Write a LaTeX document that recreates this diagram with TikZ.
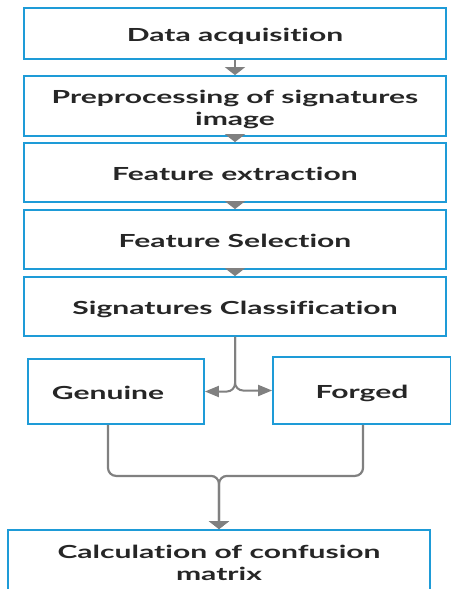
\documentclass[tikz,border=0pt]{standalone}
\usepackage{fontspec}
\setmainfont{Lato}
\newfontfamily\boxfont{Lato}[FakeStretch=1.67, Ligatures=NoCommon]
\usetikzlibrary{arrows.meta}
\definecolor{boxblue}{RGB}{30,155,215}
\definecolor{linegray}{RGB}{128,128,128}
% two centred lines, set a little below the middle of their box
\newcommand{\twolines}[2]{\raisebox{0pt}[30pt][13pt]{\begin{tabular}{@{}c@{}}#1\\#2\end{tabular}}}
\tikzset{
  stage/.style={draw=boxblue, line width=1.8pt, fill=white, rectangle,
    align=center, font=\boxfont\bfseries\fontsize{18}{21.5}\selectfont, text=black!85,
    inner sep=0pt,
    % fixed struts so every label sits at the same height in its box
    execute at begin node={\rule{0pt}{21pt}},
    execute at end node={\rule[-5pt]{0pt}{5pt}}},
  flow/.style={draw=linegray, line width=2.2pt,
    -{Triangle[width=20pt,length=8pt]}},
  sideflow/.style={draw=linegray, line width=2pt,
    -{Triangle[width=11pt,length=14pt]}}
}
\begin{document}
\begin{tikzpicture}[x=1pt,y=-1pt]
\useasboundingbox (0,0) rectangle (450,589);
% main pipeline
\node[stage, minimum width=422pt, minimum height=51pt] (acq) at (235,33.5) {Data acquisition};
\node[stage, minimum width=422pt, minimum height=60pt] (pre) at (235,106) {\twolines{Preprocessing of signatures}{image}};
\node[stage, minimum width=422pt, minimum height=59pt] (ext) at (235,172.5) {Feature extraction};
\node[stage, minimum width=422pt, minimum height=59pt] (sel) at (235,239.5) {Feature Selection};
\node[stage, minimum width=422pt, minimum height=59pt] (cls) at (235,306.5) {Signatures Classification};
% classes
\node[stage, minimum width=176pt, minimum height=65pt] (gen) at (116,391.5) {Genuine\hspace*{16pt}};
\node[stage, minimum width=178pt, minimum height=67pt] (forg) at (362,390.5) {Forged};
% evaluation
\node[stage, minimum width=422pt, minimum height=62pt] (conf) at (219,561) {\twolines{Calculation of confusion}{matrix}};
% connectors
\draw[flow] (acq) -- (pre);
\draw[flow] (pre) -- (ext);
\draw[flow] (ext) -- (sel);
\draw[flow] (sel) -- (cls);
\draw[sideflow, rounded corners=8pt] (cls.south) |- (gen.east);
\draw[sideflow, rounded corners=8pt] (cls.south) |- (forg.west);
\draw[flow, rounded corners=8pt] ([xshift=-8pt]gen.south) -- ++(0,51) -| (conf.north);
\draw[flow, rounded corners=8pt] ([xshift=1pt]forg.south) -- ++(0,51) -| (conf.north);
\end{tikzpicture}
\end{document}
